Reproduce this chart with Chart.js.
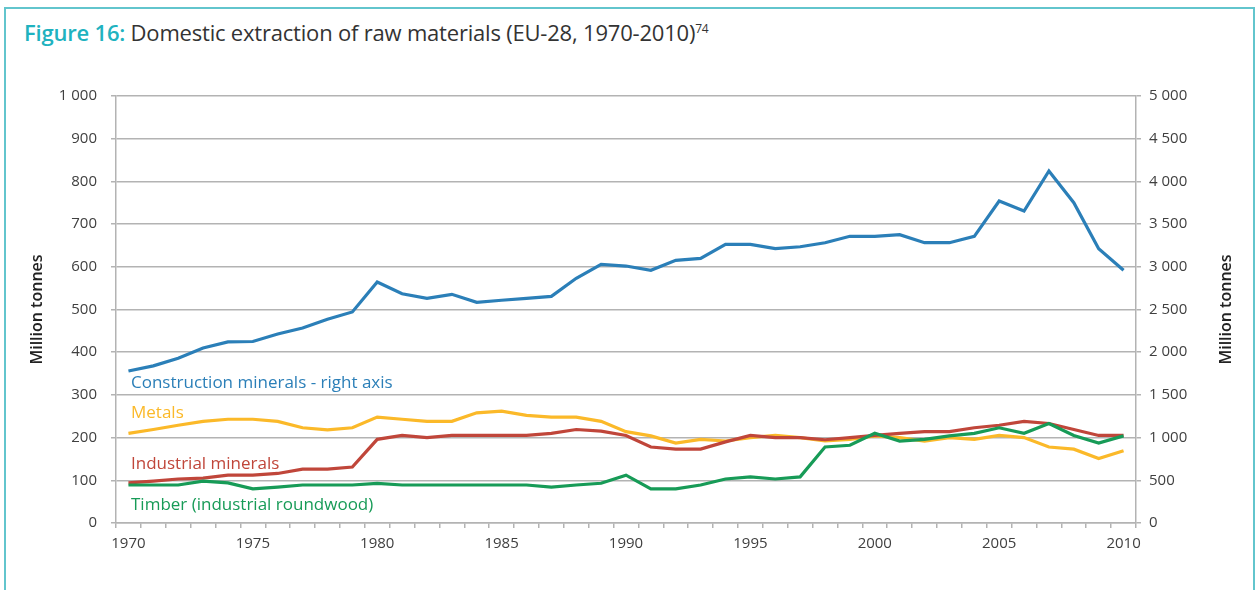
<!DOCTYPE html>
<html>
<head>
<meta charset="utf-8">
<script src="https://cdn.jsdelivr.net/npm/chart.js@4.4.1/dist/chart.umd.min.js"></script>
<style>
  html, body { margin: 0; padding: 0; background: #fff; width: 1260px; height: 590px; overflow: hidden; }
  .frame { position: absolute; left: 4px; top: 7px; width: 1251px; height: 640px; border: 2px solid #62c5cd; box-sizing: border-box; }
  .title { position: absolute; left: 24px; top: 17px; font-family: "Open Sans", sans-serif; font-size: 22px; color: #333; white-space: nowrap; letter-spacing: -0.2px; }
  .title b { color: #20b2bf; font-weight: 600; }
  .title sup { font-size: 12px; }
  #wrap { position: absolute; left: 0; top: 0; width: 1260px; height: 590px; }
</style>
</head>
<body>
<div class="frame"></div>
<div class="title"><b>Figure 16:</b> Domestic extraction of raw materials (EU-28, 1970-2010)<sup>74</sup></div>
<div id="wrap"><canvas id="chart"></canvas></div>
<script>
const years = [
  "1970","1971","1972","1973","1974","1975","1976","1977","1978","1979",
  "1980","1981","1982","1983","1984","1985","1986","1987","1988","1989",
  "1990","1991","1992","1993","1994","1995","1996","1997","1998","1999",
  "2000","2001","2002","2003","2004","2005","2006","2007","2008","2009","2010"
];
const shownYears = ["1970","1975","1980","1985","1990","1995","2000","2005","2010"];

// right axis
const construction = [
  1780, 1840, 1930, 2050, 2120, 2125, 2213, 2283, 2385, 2471,
  2822, 2685, 2631, 2678, 2584, 2608, 2631, 2654, 2865, 3029,
  3009, 2959, 3076, 3099, 3263, 3263, 3212, 3235, 3282, 3357,
  3357, 3376, 3282, 3282, 3357, 3770, 3653, 4122, 3750, 3212, 2959
];
const metals = [
  210, 219, 229, 238, 243, 243, 238, 223, 218, 223,
  248, 243, 238, 238, 258, 262, 252, 248, 248, 238,
  214, 204, 187, 196, 192, 200, 205, 200, 192, 196,
  204, 200, 192, 200, 196, 205, 200, 178, 173, 151, 169
];
const industrial = [
  94, 98, 103, 105, 112, 112, 116, 126, 126, 131,
  196, 205, 200, 205, 205, 205, 205, 210, 219, 215,
  205, 178, 173, 173, 190, 205, 200, 200, 195, 200,
  205, 210, 214, 214, 223, 229, 238, 233, 219, 205, 205
];
const timber = [
  89, 89, 89, 98, 94, 80, 84, 89, 89, 89,
  93, 89, 89, 89, 89, 89, 89, 84, 89, 93,
  112, 80, 80, 89, 103, 108, 103, 108, 178, 182,
  210, 192, 196, 204, 210, 223, 210, 233, 205, 187, 204
];

const leftTicks = ["0","100","200","300","400","500","600","700","800","900","1 000"];
const rightTicks = ["0","500","1 000","1 500","2 000","2 500","3 000","3 500","4 000","4 500","5 000"];

// label text, colour, left-axis value where it sits
const seriesLabels = [
  ["Construction minerals - right axis", "#2b7fb8", 327],
  ["Metals", "#fbb929", 257],
  ["Industrial minerals", "#c0463a", 138],
  ["Timber (industrial roundwood)", "#179b57", 42]
];

const FONT = "'Open Sans', sans-serif";
const gridColor = "#b3b3b3";

const extras = {
  id: "extras",
  afterDatasetsDraw(chart) {
    const { ctx, chartArea, scales } = chart;
    ctx.save();
    ctx.font = "500 17px " + FONT;
    ctx.textBaseline = "middle";
    ctx.textAlign = "left";
    seriesLabels.forEach(([txt, col, v]) => {
      ctx.fillStyle = col;
      ctx.fillText(txt, chartArea.left + 15, scales.y.getPixelForValue(v));
    });
    // axis titles, both reading bottom to top
    ctx.font = "600 16px " + FONT;
    ctx.fillStyle = "#222";
    ctx.textAlign = "center";
    const mid = (chartArea.top + chartArea.bottom) / 2;
    [37, 1226].forEach(x => {
      ctx.save();
      ctx.translate(x, mid);
      ctx.rotate(-Math.PI / 2);
      ctx.fillText("Million tonnes", 0, 0);
      ctx.restore();
    });
    ctx.restore();
  }
};

function line(label, data, color, axis) {
  return {
    label, data, yAxisID: axis,
    borderColor: color, backgroundColor: color,
    borderWidth: 3.2, pointRadius: 0, tension: 0, fill: false
  };
}

new Chart(document.getElementById("chart"), {
  type: "line",
  data: {
    labels: years,
    datasets: [
      line("Timber (industrial roundwood)", timber, "#179b57", "y"),
      line("Industrial minerals", industrial, "#c0463a", "y"),
      line("Metals", metals, "#fbb929", "y"),
      line("Construction minerals", construction, "#2b7fb8", "y2")
    ]
  },
  options: {
    responsive: true,
    maintainAspectRatio: false,
    animation: false,
    layout: { padding: { top: 96, left: 0, right: 0, bottom: 0 } },
    plugins: { legend: { display: false }, tooltip: { enabled: false } },
    scales: {
      x: {
        offset: true,
        grid: { drawOnChartArea: false, offset: true, tickLength: 5, color: gridColor, lineWidth: 1.5 },
        border: { color: gridColor, width: 1.5 },
        ticks: {
          autoSkip: false, maxRotation: 0, padding: 7,
          color: "#404040", font: { family: FONT, size: 15 },
          callback: (v, i) => shownYears.includes(years[i]) ? years[i] : ""
        },
        afterFit: s => { s.height = 67; }
      },
      y: {
        position: "left", min: 0, max: 1000,
        grid: { color: gridColor, lineWidth: 1.5, tickLength: 5 },
        border: { color: gridColor, width: 1.5 },
        ticks: {
          stepSize: 100, padding: 14, color: "#404040", font: { family: FONT, size: 15 },
          callback: (v, i) => leftTicks[i]
        },
        afterFit: s => { s.width = 116; }
      },
      y2: {
        position: "right", min: 0, max: 5000,
        grid: { drawOnChartArea: false, color: gridColor, lineWidth: 1.5, tickLength: 5 },
        border: { color: gridColor, width: 1.5 },
        ticks: {
          stepSize: 500, padding: 8, color: "#404040", font: { family: FONT, size: 15 },
          callback: (v, i) => rightTicks[i]
        },
        afterFit: s => { s.width = 124; }
      }
    }
  },
  plugins: [extras]
});
</script>
</body>
</html>
